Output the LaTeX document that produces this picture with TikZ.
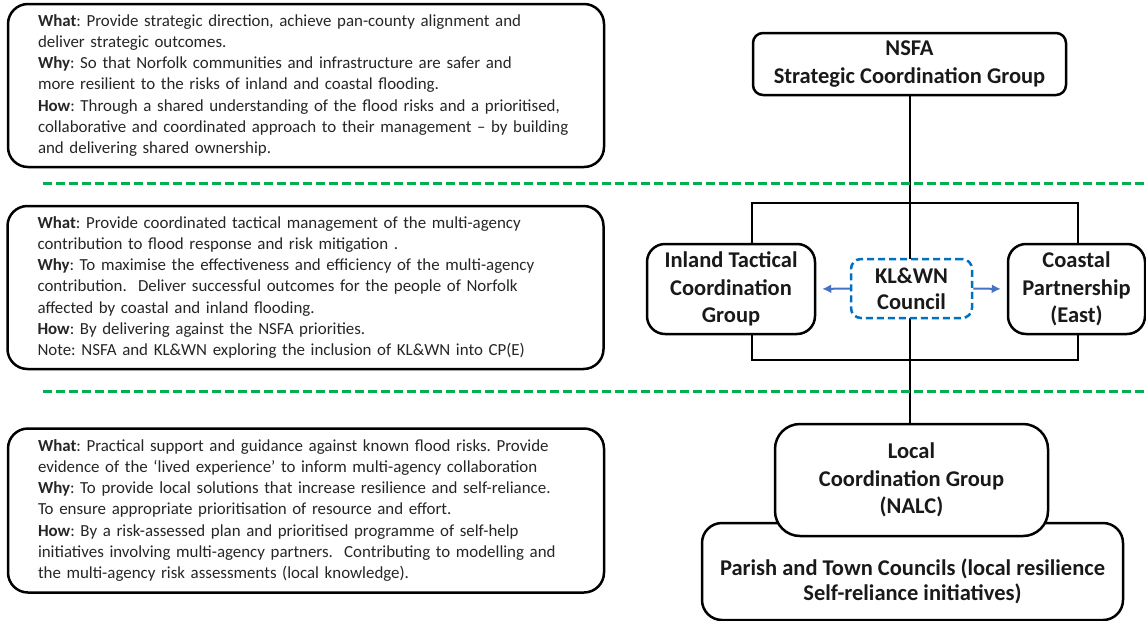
\documentclass[tikz,border=0pt]{standalone}
\usepackage{fontspec}
\setmainfont{Carlito}
\usetikzlibrary{arrows.meta,backgrounds}
\definecolor{levelgreen}{HTML}{00B050}
\definecolor{councilblue}{HTML}{0070C0}
\definecolor{linkblue}{HTML}{4472C4}
\frenchspacing

\begin{document}
\begin{tikzpicture}[x=1pt,y=-1pt,
  infobox/.style={draw, line width=2.5pt, rounded corners=20pt, fill=white,
    align=left, text width=536pt, inner xsep=30pt, inner ysep=0pt,
    minimum height=163pt, text=black!85,
    font=\fontsize{16.9}{21.2}\selectfont},
  orgbox/.style={draw, line width=2.5pt, rounded corners=14pt, fill=white,
    align=center, inner sep=0pt, text=black!90,
    font=\fontsize{22.5}{27.5}\selectfont\bfseries},
  level/.style={levelgreen, line width=3pt, dash pattern=on 9pt off 4pt},
  link/.style={line width=2pt},
  side/.style={linkblue, line width=2pt, -{Latex[length=9pt,width=9pt]}, shorten >=6pt}]

\useasboundingbox (0,0) rectangle (1146,621);

%what / why / how boxes
\node[infobox] (strat) at (306,85.5) {%
\textbf{What}: Provide strategic direction, achieve pan-county alignment and\\
deliver strategic outcomes.\\
\textbf{Why}: So that Norfolk communities and infrastructure are safer and\\
more resilient to the risks of inland and coastal flooding.\\
\textbf{How}: Through a shared understanding of the flood risks and a prioritised,\\
collaborative and coordinated approach to their management -- by building\\
and delivering shared ownership.};

\node[infobox] (tact) at (305.5,287.5) {%
\textbf{What}: Provide coordinated tactical management of the multi-agency\\
contribution to flood response and risk mitigation .\\
\textbf{Why}: To maximise the effectiveness and efficiency of the multi-agency\\
contribution.\ \ Deliver successful outcomes for the people of Norfolk\\
affected by coastal and inland flooding.\\
\textbf{How}: By delivering against the NSFA priorities.\\
Note: NSFA and KL\&WN exploring the inclusion of KL\&WN into CP(E)};

\node[infobox, minimum height=164pt] (local) at (306,510.5) {%
\textbf{What}: Practical support and guidance against known flood risks. Provide\\
evidence of the `lived experience' to inform multi-agency collaboration\\
\textbf{Why}: To provide local solutions that increase resilience and self-reliance.\\
To ensure appropriate prioritisation of resource and effort.\\
\textbf{How}: By a risk-assessed plan and prioritised programme of self-help\\
initiatives involving multi-agency partners.\ \ Contributing to modelling and\\
the multi-agency risk assessments (local knowledge).};

%organisation chart
\node[orgbox, rounded corners=10pt, minimum width=313pt, minimum height=62pt] (nsfa) at (909.5,64)
  {NSFA\\Strategic Coordination Group};
\node[orgbox, rounded corners=18pt, minimum width=168pt, minimum height=90pt] (inland) at (731,289)
  {Inland Tactical\\Coordination\\Group};
\node[orgbox, rounded corners=18pt, minimum width=137pt, minimum height=90pt] (coastal) at (1076.5,289)
  {Coastal\\Partnership\\(East)};
\node[orgbox, draw=councilblue, dash pattern=on 7pt off 4pt, rounded corners=10pt,
  minimum width=121pt, minimum height=59pt, font=\fontsize{22.5}{26}\selectfont\bfseries] (klwn) at (911.5,288.5)
  {KL\&WN\\Council};
\node[orgbox, rounded corners=20pt, minimum width=421pt, minimum height=97pt] (parish) at (912.5,571.5)
  {\raisebox{-10.5pt}[\height][\depth]{\begin{tabular}{@{}c@{}}Parish and Town Councils (local resilience\\[-2.5pt]
   Self-reliance initiatives)\end{tabular}}};
\node[orgbox, rounded corners=25pt, minimum width=273pt, minimum height=112pt] (lcg) at (911.5,480)
  {Local\\Coordination Group\\(NALC)};

\coordinate (frametl) at (752,203);
\coordinate (framebr) at (1078,360);

\begin{scope}[on background layer]
\draw[link] (nsfa.south) -- (nsfa.south |- lcg.north);
\draw[link, line width=2.5pt] (frametl) rectangle (framebr);
\end{scope}

%council links
\draw[side] (klwn.west) -- (inland.east);
\draw[side] (klwn.east) -- (coastal.west);

%level separators
\coordinate (lvlA) at (43,183);
\coordinate (lvlB) at (43,391);
\draw[level] (lvlA) -- (lvlA -| 1146,0);
\draw[level] (lvlB) -- (lvlB -| 1146,0);

\end{tikzpicture}
\end{document}
